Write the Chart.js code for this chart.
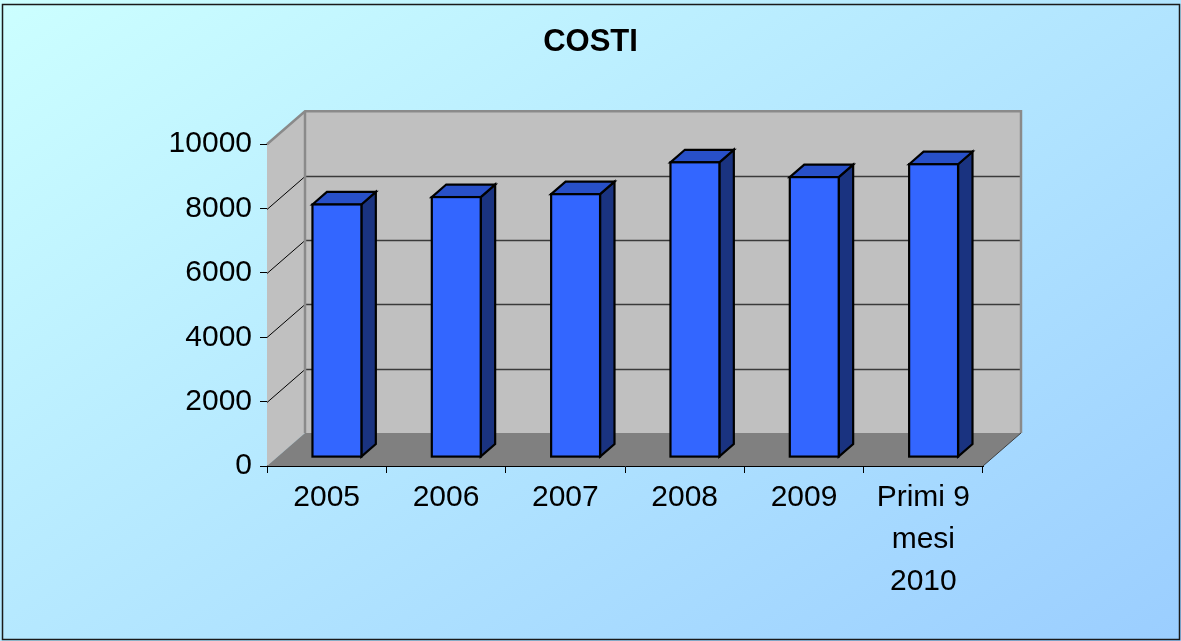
<!DOCTYPE html>
<html>
<head>
<meta charset="utf-8">
<title>COSTI</title>
<script src="https://cdn.jsdelivr.net/npm/chart.js@4.4.1/dist/chart.umd.min.js"></script>
<style>
    html, body { margin: 0; padding: 0; background: #fff; }
    #wrap { width: 1181px; height: 641px; position: relative; }
</style>
</head>
<body>
<div id="wrap"><canvas id="costChart"></canvas></div>
<script>
// Data
const categories = ['2005', '2006', '2007', '2008', '2009', ['Primi 9', 'mesi', '2010']];
const costValues = [7850, 8080, 8170, 9160, 8700, 9100];
const yMin = 0;
const yMax = 10000;
const yStep = 2000;

// 3D look (Excel style) - depth offsets of the box, in pixels
const DEPTH_X = 38;
const DEPTH_Y = -33;
const BAR_FRONT = 0.27;   // where the bar front sits inside the depth
const BAR_DEPTH = 0.38;   // how deep the bar is

const FONT = "'Liberation Sans', Arial, sans-serif";

const backdropPlugin = {
    id: 'backdrop',
    beforeDraw(chart) {
        const ctx = chart.ctx;
        const w = chart.width, h = chart.height;
        ctx.save();
        const g = ctx.createLinearGradient(0, 0, w * 0.55, h * 1.6);
        g.addColorStop(0, '#ccffff');
        g.addColorStop(1, '#99ccff');
        ctx.fillStyle = g;
        ctx.fillRect(0, 0, w, h);
        ctx.strokeStyle = '#1a1a1a';
        ctx.lineWidth = 1.5;
        ctx.strokeRect(2.5, 4.5, w - 4, h - 6);
        ctx.restore();
    }
};

// walls, floor and grid of the 3D box
const boxPlugin = {
    id: 'box3d',
    beforeDatasetsDraw(chart) {
        const ctx = chart.ctx;
        const { left, right } = chart.chartArea;
        const ys = chart.scales.y;
        const y0 = ys.getPixelForValue(yMin);
        const yT = ys.getPixelForValue(yMax);
        ctx.save();

        // side wall
        ctx.fillStyle = '#c0c0c0';
        ctx.beginPath();
        ctx.moveTo(left, y0);
        ctx.lineTo(left, yT);
        ctx.lineTo(left + DEPTH_X, yT + DEPTH_Y);
        ctx.lineTo(left + DEPTH_X, y0 + DEPTH_Y);
        ctx.closePath();
        ctx.fill();

        // back wall
        ctx.fillRect(left + DEPTH_X, yT + DEPTH_Y, right - left, y0 - yT);

        // floor
        ctx.fillStyle = '#808080';
        ctx.beginPath();
        ctx.moveTo(left, y0);
        ctx.lineTo(right, y0);
        ctx.lineTo(right + DEPTH_X, y0 + DEPTH_Y);
        ctx.lineTo(left + DEPTH_X, y0 + DEPTH_Y);
        ctx.closePath();
        ctx.fill();

        // gridlines
        for (let v = yMin + yStep; v < yMax; v += yStep) {
            const py = Math.round(ys.getPixelForValue(v)) + 0.5;
            ctx.strokeStyle = '#3a3a3a';
            ctx.lineWidth = 1.5;
            ctx.beginPath();
            ctx.moveTo(left + DEPTH_X, py + DEPTH_Y);
            ctx.lineTo(right + DEPTH_X, py + DEPTH_Y);
            ctx.stroke();
            ctx.strokeStyle = '#000';
            ctx.lineWidth = 1;
            ctx.beginPath();
            ctx.moveTo(left, py);
            ctx.lineTo(left + DEPTH_X, py + DEPTH_Y);
            ctx.stroke();
        }

        // wall edges
        ctx.strokeStyle = '#8a8a8a';
        ctx.lineWidth = 2.5;
        ctx.beginPath();
        ctx.moveTo(left, yT);
        ctx.lineTo(left + DEPTH_X, yT + DEPTH_Y);
        ctx.lineTo(right + DEPTH_X, yT + DEPTH_Y);
        ctx.lineTo(right + DEPTH_X, y0 + DEPTH_Y);
        ctx.moveTo(left + DEPTH_X, yT + DEPTH_Y);
        ctx.lineTo(left + DEPTH_X, y0 + DEPTH_Y);
        ctx.stroke();

        ctx.strokeStyle = '#404040';
        ctx.lineWidth = 1;
        ctx.beginPath();
        ctx.moveTo(right, y0);
        ctx.lineTo(right + DEPTH_X, y0 + DEPTH_Y);
        ctx.stroke();
        ctx.restore();
    },
    afterDatasetsDraw(chart) {
        const ctx = chart.ctx;
        const meta = chart.getDatasetMeta(0);
        const fx = DEPTH_X * BAR_FRONT, fy = DEPTH_Y * BAR_FRONT;
        const sx = DEPTH_X * BAR_DEPTH, sy = DEPTH_Y * BAR_DEPTH;
        ctx.save();
        ctx.lineWidth = 2.2;
        ctx.lineJoin = 'miter';
        ctx.strokeStyle = '#000';
        meta.data.forEach(bar => {
            const p = bar.getProps(['x', 'y', 'base', 'width'], true);
            const L = p.x - p.width / 2 + fx;
            const R = p.x + p.width / 2 + fx;
            const T = p.y + fy;
            const B = p.base + fy;

            // side
            ctx.fillStyle = '#1a3380';
            ctx.beginPath();
            ctx.moveTo(R, T);
            ctx.lineTo(R + sx, T + sy);
            ctx.lineTo(R + sx, B + sy);
            ctx.lineTo(R, B);
            ctx.closePath();
            ctx.fill();
            ctx.stroke();

            // top
            ctx.fillStyle = '#2850c8';
            ctx.beginPath();
            ctx.moveTo(L, T);
            ctx.lineTo(L + sx, T + sy);
            ctx.lineTo(R + sx, T + sy);
            ctx.lineTo(R, T);
            ctx.closePath();
            ctx.fill();
            ctx.stroke();

            // front
            ctx.fillStyle = '#3366ff';
            ctx.fillRect(L, T, R - L, B - T);
            ctx.strokeRect(L, T, R - L, B - T);
        });
        ctx.restore();
    }
};

const ctx = document.getElementById('costChart').getContext('2d');
const costChart = new Chart(ctx, {
    type: 'bar',
    data: {
        labels: categories,
        datasets: [{
            label: 'COSTI',
            data: costValues,
            backgroundColor: 'rgba(0,0,0,0)',
            borderWidth: 0,
            barPercentage: 0.41,
            categoryPercentage: 1
        }]
    },
    options: {
        responsive: true,
        maintainAspectRatio: false,
        animation: false,
        layout: { padding: 0 },
        scales: {
            x: {
                offset: true,
                grid: { display: true, offset: true, drawOnChartArea: false, color: '#000', tickLength: 7 },
                border: { display: true, color: '#000', width: 1 },
                ticks: {
                    color: '#000',
                    padding: 4,
                    maxRotation: 0,
                    autoSkip: false,
                    font: { family: FONT, size: 30, lineHeight: 1.4 }
                },
                afterFit(scale) { scale.height = 175; }
            },
            y: {
                min: yMin,
                max: yMax,
                ticks: {
                    stepSize: yStep,
                    color: '#000',
                    padding: 8,
                    font: { family: FONT, size: 30 },
                    callback: v => String(v)
                },
                grid: { drawOnChartArea: false, color: '#000', tickLength: 7 },
                border: { display: true, color: '#000', width: 1 },
                afterFit(scale) { scale.width = 267; }
            },
            // empty right-hand box: leaves room for the 3D depth
            depth: {
                type: 'linear',
                position: 'right',
                display: true,
                grid: { display: false },
                border: { display: false },
                ticks: { display: false },
                afterFit(scale) { scale.width = 198; }
            }
        },
        plugins: {
            legend: { display: false },
            tooltip: { enabled: false },
            title: {
                display: true,
                text: 'COSTI',
                color: '#000',
                font: { family: FONT, size: 31, weight: 'bold' },
                padding: { top: 24, bottom: 83 }
            }
        }
    },
    plugins: [backdropPlugin, boxPlugin]
});
</script>
</body>
</html>
